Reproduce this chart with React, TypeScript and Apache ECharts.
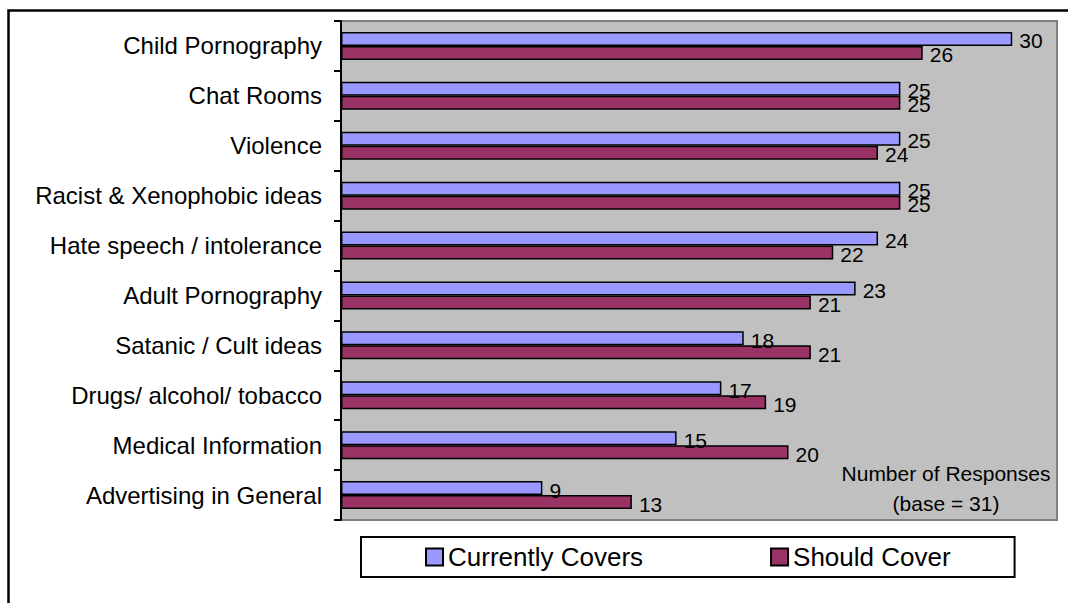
import React, { useEffect, useRef } from "react";
import * as echarts from "echarts";

const categories = [
  "Child Pornography",
  "Chat Rooms",
  "Violence",
  "Racist & Xenophobic ideas",
  "Hate speech / intolerance",
  "Adult Pornography",
  "Satanic / Cult ideas",
  "Drugs/ alcohol/ tobacco",
  "Medical Information",
  "Advertising in General",
];
const currentlyCovers = [30, 25, 25, 25, 24, 23, 18, 17, 15, 9];
const shouldCover = [26, 25, 24, 25, 22, 21, 21, 19, 20, 13];
const seriesNames = ["Currently Covers", "Should Cover"];
const noteText = "Number of Responses\n(base = 31)";

const FONT = "'Liberation Sans', Arial, Helvetica, sans-serif";

export default function App() {
  const ref = useRef<HTMLDivElement>(null);
  useEffect(() => {
    if (!ref.current) return;
    const chart = echarts.init(ref.current, null, { renderer: "svg" });
    const label = {
      show: true,
      position: "right",
      distance: 7,
      offset: [0, 2],
      color: "#000",
      fontSize: 21,
      fontFamily: FONT,
    };
    chart.setOption({
      animation: false,
      textStyle: { fontFamily: FONT },
      grid: {
        left: 341,
        top: 21,
        right: 11,
        bottom: 83,
        show: true,
        backgroundColor: "#C0C0C0",
        borderColor: "#808080",
        borderWidth: 2,
      },
      xAxis: {
        type: "value",
        min: 0,
        max: 32,
        show: false,
        splitLine: { show: false },
      },
      yAxis: {
        type: "category",
        inverse: true,
        data: categories,
        axisLine: { show: true, lineStyle: { color: "#000", width: 2 } },
        axisTick: { show: true, length: 7, lineStyle: { color: "#000", width: 2 } },
        axisLabel: { color: "#000", fontSize: 24, fontFamily: FONT, margin: 19 },
        splitLine: { show: false },
      },
      legend: {
        left: 361,
        top: 537,
        orient: "horizontal",
        selectedMode: false,
        backgroundColor: "#fff",
        borderColor: "#000",
        borderWidth: 2,
        borderRadius: 0,
        padding: [7, 64, 7, 64],
        itemWidth: 17,
        itemHeight: 17,
        itemGap: 127,
        itemTextGap: 5,
        icon: "rect",
        itemStyle: { borderColor: "#000", borderWidth: 2 },
        textStyle: { color: "#000", fontSize: 26, fontFamily: FONT, lineHeight: 26 },
        data: seriesNames,
      },
      graphic: [
        {
          type: "rect",
          silent: true,
          shape: { x: 8.5, y: 10.5, width: 1100, height: 620 },
          style: { fill: "none", stroke: "#000", lineWidth: 2.5 },
          z: 100,
        },
        {
          type: "text",
          silent: true,
          x: 946,
          y: 488,
          style: {
            text: noteText,
            fill: "#000",
            fontSize: 21,
            fontFamily: FONT,
            lineHeight: 30,
            align: "center",
            verticalAlign: "middle",
          },
          z: 50,
        },
      ],
      series: [
        {
          name: seriesNames[0],
          type: "bar",
          data: currentlyCovers,
          barWidth: 14,
          barGap: "0%",
          itemStyle: { color: "#9999FF", borderColor: "#000", borderWidth: 1.5 },
          label,
        },
        {
          name: seriesNames[1],
          type: "bar",
          data: shouldCover,
          barWidth: 14,
          barGap: "0%",
          itemStyle: { color: "#993366", borderColor: "#000", borderWidth: 1.5 },
          label,
        },
      ],
    });
    return () => chart.dispose();
  }, []);
  return (
    <div
      ref={ref}
      style={{ position: "fixed", left: 0, top: 0, width: 1068, height: 603, background: "#fff" }}
    />
  );
}
